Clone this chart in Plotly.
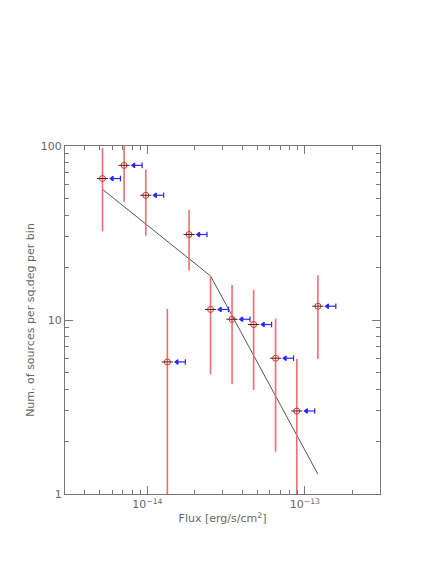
import numpy as np
import plotly.graph_objects as go

# bin centres (erg/s/cm2) and measured source densities
flux = [5.19e-15, 7.12e-15, 9.77e-15, 1.34e-14, 1.84e-14, 2.52e-14,
        3.45e-14, 4.73e-14, 6.52e-14, 8.89e-14, 1.21e-13]
counts = [65.0, 77.4, 52.1, 5.74, 31.0, 11.5, 10.1, 9.42, 6.03, 3.0, 12.0]
upper = [97.4, 105.0, 73.5, 11.6, 42.9, 17.9, 15.9, 14.9, 10.2, 5.97, 18.1]
lower = [32.3, 47.9, 30.5, 0.5, 19.2, 4.87, 4.27, 3.96, 1.75, 0.5, 5.97]
# broken power-law model at the bin centres
model = [56.4, 44.8, 35.6, 28.3, 22.5, 17.9, 10.6, 6.27, 3.71, 2.19, 1.30]

counts = np.array(counts)
err_plus = np.array(upper) - counts
err_minus = counts - np.array(lower)
fx = np.array(flux)

# blue "<-|" markers drawn just right of each point
arr_x, arr_y, arr_sym = [], [], []
for f, c in zip(fx, counts):
    arr_x += [f * 1.15, f * 1.30, None]
    arr_y += [c, c, None]
    arr_sym += ['triangle-left', 'line-ns', 'circle']

fig = go.Figure()
fig.add_trace(go.Scatter(x=flux, y=model, mode='lines',
                         line=dict(color='#555555', width=1)))
fig.add_trace(go.Scatter(x=flux, y=counts, mode='markers',
                         marker=dict(symbol='circle-open', size=6,
                                     color='#e03030', line=dict(width=1)),
                         error_y=dict(type='data', symmetric=False,
                                      array=err_plus, arrayminus=err_minus,
                                      color='#e87070', thickness=1.6, width=0)))
fig.add_trace(go.Scatter(x=flux, y=counts, mode='markers',
                         marker=dict(symbol='line-ew', size=8,
                                     line=dict(color='#402020', width=1))))
fig.add_trace(go.Scatter(x=arr_x, y=arr_y, mode='lines+markers',
                         line=dict(color='#2828ff', width=1.2),
                         marker=dict(symbol=arr_sym, size=4, color='#2828ff',
                                     line=dict(color='#2828ff', width=1.2))))

axis_font = dict(family='DejaVu Sans', size=11, color='#666666')
minor_y = [2, 3, 4, 5, 6, 7, 8, 9, 20, 30, 40, 50, 60, 70, 80, 90]
minor_x = [4e-15, 5e-15, 6e-15, 7e-15, 8e-15, 9e-15,
           2e-14, 3e-14, 4e-14, 5e-14, 6e-14, 7e-14, 8e-14, 9e-14, 2e-13]

fig.update_xaxes(type='log', range=[np.log10(3e-15), np.log10(3e-13)],
                 tickvals=[1e-14, 1e-13],
                 ticktext=['10<sup>\u221214</sup>', '10<sup>\u221213</sup>'],
                 ticks='inside', ticklen=8, tickcolor='#777777',
                 minor=dict(tickmode='array', tickvals=minor_x, ticks='inside',
                            ticklen=4, tickcolor='#777777'),
                 showline=True, linecolor='#777777', linewidth=1,
                 mirror='allticks', showgrid=False, zeroline=False,
                 tickfont=axis_font,
                 title=dict(text='Flux [erg/s/cm<sup>2</sup>]', font=axis_font,
                            standoff=4))
fig.update_yaxes(type='log', range=[0, 2],
                 tickvals=[1, 10, 100], ticktext=['1', '10', '100'],
                 ticks='inside', ticklen=8, tickcolor='#777777',
                 minor=dict(tickmode='array', tickvals=minor_y, ticks='inside',
                            ticklen=4, tickcolor='#777777'),
                 showline=True, linecolor='#777777', linewidth=1,
                 mirror='allticks', showgrid=False, zeroline=False,
                 tickfont=axis_font,
                 title=dict(text='Num. of sources per sq.deg per bin',
                            font=axis_font, standoff=3))
fig.update_layout(width=429, height=574, showlegend=False,
                  margin=dict(l=57, r=57, t=138, b=88),
                  paper_bgcolor='white', plot_bgcolor='white')

fig.write_html("out.html")
